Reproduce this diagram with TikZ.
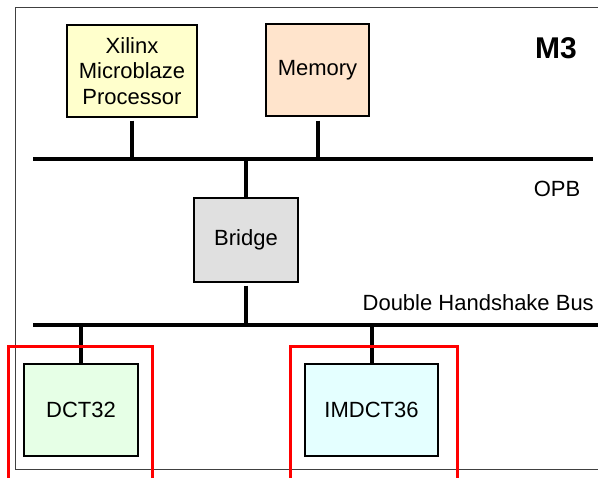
\documentclass[tikz,border=0pt]{standalone}
\usepackage{fontspec}
\setmainfont{Liberation Sans}
\usetikzlibrary{calc}
\definecolor{procfill}{HTML}{FFFFCC}
\definecolor{memfill}{HTML}{FFE4CC}
\definecolor{bridgefill}{HTML}{E0E0E0}
\definecolor{dctfill}{HTML}{E6FFE6}
\definecolor{imdctfill}{HTML}{E4FFFF}
\tikzset{
	block/.style={draw=black, line width=1.4pt, minimum height=92pt, align=center, inner sep=0pt,
		font=\fontsize{22}{25.5}\selectfont},
	bus/.style={line width=4pt},
	wire/.style={line width=4pt},
	hwbox/.style={draw=red, line width=3pt},
	buslabel/.style={font=\fontsize{22}{25}\selectfont, inner sep=0pt}
}

\begin{document}
\begin{tikzpicture}[x=1pt, y=-1pt]
			%%%%% START %%%%%
			
			\useasboundingbox (0, 0) rectangle (598, 478);
			\clip (0, 0) rectangle (598, 478);
			\draw[line width=0.9pt, color=black!75] (15, 7) rectangle (620, 469);
			
			\node[block, fill=procfill, minimum width=130pt] (proc) at (132, 71) {Xilinx\\Microblaze\\Processor};
			\node[block, fill=memfill, minimum width=103pt] (mem) at (317.5, 70) {Memory};
			\node[font=\fontsize{30}{30}\selectfont\bfseries, inner sep=0pt] (m3) at (556, 48) {M3};
			
			\coordinate (opbL) at (33, 159);
			\coordinate (opbR) at (593, 159);
			\draw[bus] (opbL) -- (opbR);
			\node[buslabel] (opb) at (557, 189) {OPB};
			
			\draw[wire] ($(proc.south)+(0, 3)$) -- (proc.south |- opbL);
			\draw[wire] ($(mem.south)+(0, 4)$) -- (mem.south |- opbL);
			
			\node[block, fill=bridgefill, minimum width=104pt, minimum height=84pt] (bridge) at (246, 240) {Bridge};
			\draw[wire] (bridge.north |- opbL) -- (bridge.north);
			
			\coordinate (dhbL) at (33, 325);
			\coordinate (dhbR) at (600, 325);
			\draw[bus] (dhbL) -- (dhbR);
			\node[buslabel, anchor=east] (dhb) at (594, 303) {Double Handshake Bus};
			\draw[wire] ($(bridge.south)+(0, 3)$) -- (bridge.south |- dhbL);
			
			\node[block, fill=dctfill, minimum width=114pt] (dct) at (81, 410) {DCT32};
			\node[block, fill=imdctfill, minimum width=133pt] (imdct) at (371.5, 410) {IMDCT36};
			\draw[wire] (dct.north |- dhbL) -- (dct.north);
			\draw[wire] (imdct.north |- dhbL) -- (imdct.north);
			
			\draw[hwbox] (8, 490) -- (8, 347) -- (152, 347) -- (152, 490);
			\draw[hwbox] (290, 490) -- (290, 347) -- (457, 347) -- (457, 490);
			
			%%%%% END %%%%%
\end{tikzpicture}
\end{document}
